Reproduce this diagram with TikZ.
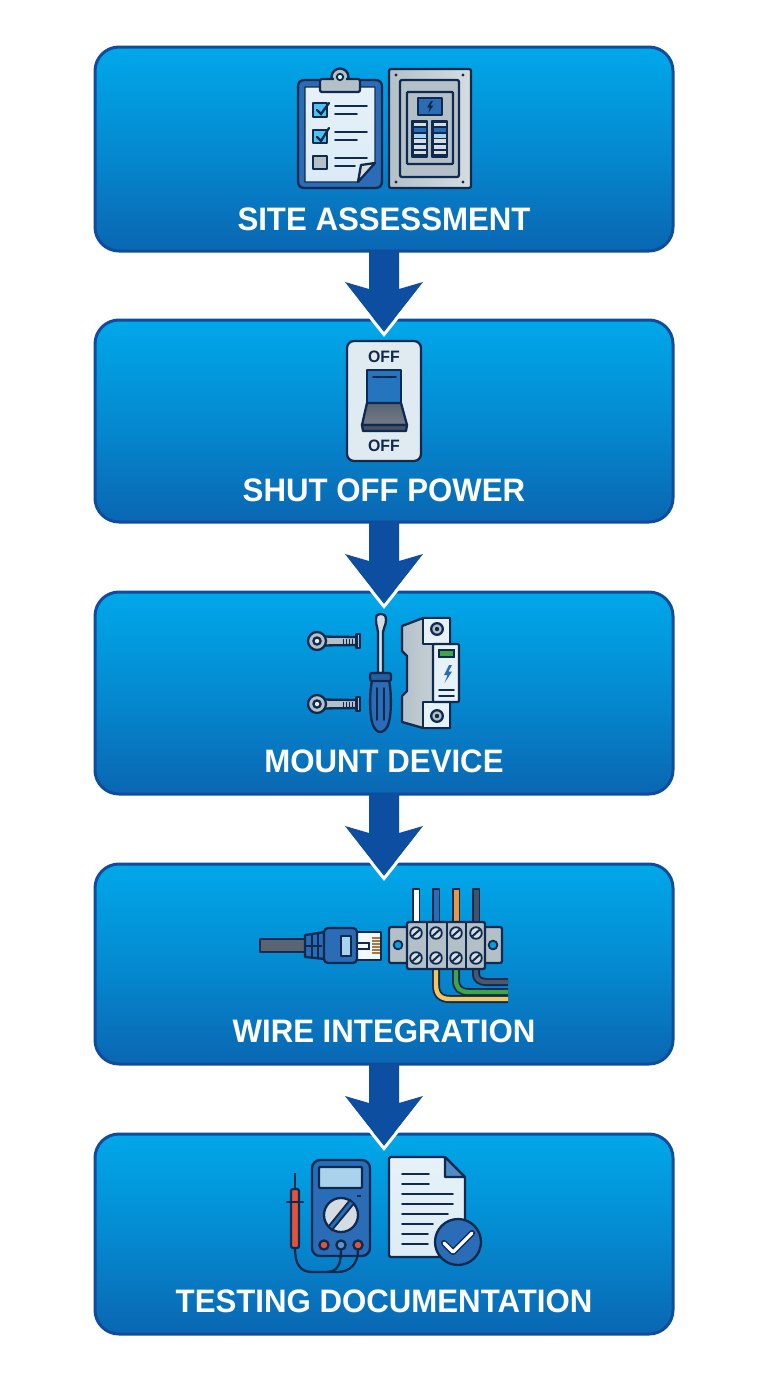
\documentclass[tikz,border=0pt]{standalone}
\usepackage{fontspec}
\setmainfont[FakeStretch=0.96]{Liberation Sans}
\usetikzlibrary{calc}
\definecolor{ink}{HTML}{10294F}
\definecolor{boxtop}{HTML}{00A8EA}
\definecolor{boxbot}{HTML}{0A66B2}
\definecolor{boxline}{HTML}{0F4C9A}
\definecolor{arrowblue}{HTML}{0D4EA0}
\definecolor{mblue}{HTML}{2A6CB5}
\definecolor{lblue}{HTML}{A9D3EC}
\definecolor{paper}{HTML}{E6F1F8}
\definecolor{metal}{HTML}{B4C0C8}
\definecolor{metald}{HTML}{8F9BA5}
\definecolor{metall}{HTML}{D5DDE2}
\definecolor{slate}{HTML}{5A6472}
\definecolor{redp}{HTML}{E0533F}
\definecolor{wireorange}{HTML}{E8983F}
\definecolor{wireyellow}{HTML}{F2C85A}
\definecolor{wiregreen}{HTML}{3FA548}
\tikzset{
  stepbox/.style={draw=boxline,line width=3pt,rounded corners=24pt,minimum width=578pt,inner sep=0pt,outer sep=0pt,
    top color=boxtop,bottom color=boxbot,middle color=boxtop!55!boxbot},
  steplabel/.style={text=white,font=\fontsize{32.5}{32.5}\selectfont\bfseries,inner sep=0pt},
  ic/.style={draw=ink,line width=2.3pt,line join=round,line cap=round},
  thin ic/.style={draw=ink,line width=1.8pt,line cap=round},
  slot/.style={draw=ink,line width=1.5pt,line cap=round},
}
\newcommand\flowarrow[2]{%
  \fill[arrowblue] ($(#1.south)+(-15,0)$) -- ($(#2.north)+(-15,-31)$) -- ($(#2.north)+(-39,-38)$)
    -- ($(#2.north)+(0,12)$) -- ($(#2.north)+(39,-38)$) -- ($(#2.north)+(15,-31)$) -- ($(#1.south)+(15,0)$) -- cycle;
  \draw[white,line width=3pt,line join=miter] ($(#2.north)+(-39,-38)+(-1.5,1.8)$) -- ($(#2.north)+(0,14.5)$) -- ($(#2.north)+(39,-38)+(1.5,1.8)$);
}
\newcommand\slotscrew[2]{%
  \draw[ic,fill=metall,line width=1.8pt] (#1,#2) circle (5.8pt);
  \draw[ink,line width=2pt] (#1-3.6,#2+3.2) -- (#1+3.6,#2-3.2);
}
\newcommand\eyebolt[1]{%
  \draw[ic,fill=metal] (321,#1-4.5) -- (357,#1-4) -- (357,#1+4) -- (321,#1+4.5) -- cycle;
  \draw[ic,fill=metal] (317,#1) circle (9pt);
  \draw[ic,fill=paper] (317,#1) circle (3.6pt);
  \draw[ic,fill=metal] (356.5,#1-7) rectangle (360,#1+7);
  \foreach \tx in {343,346,349,352}{\draw[ink,line width=.9pt] (\tx,#1-2.5) -- (\tx,#1+2.5);}
}
\begin{document}
\begin{tikzpicture}[x=1pt,y=-1pt]
\useasboundingbox (0,0) rectangle (768,1376);
\fill[white] (0,0) rectangle (768,1376);
% boxes
\node[stepbox,minimum height=204pt] (b1) at (384,149) {};
\node[stepbox,minimum height=202pt] (b2) at (384,421) {};
\node[stepbox,minimum height=202pt] (b3) at (384,693) {};
\node[stepbox,minimum height=200pt] (b4) at (384,964) {};
\node[stepbox,minimum height=200pt] (b5) at (384,1234) {};
\node[steplabel] (t1) at (384,219) {SITE ASSESSMENT};
\node[steplabel] (t2) at (384,490) {SHUT OFF POWER};
\node[steplabel] (t3) at (384,761) {MOUNT DEVICE};
\node[steplabel] (t4) at (384,1031) {WIRE INTEGRATION};
\node[steplabel] (t5) at (384,1301) {TESTING DOCUMENTATION};
\flowarrow{b1}{b2}
\flowarrow{b2}{b3}
\flowarrow{b3}{b4}
\flowarrow{b4}{b5}
% ---------- clipboard
\draw[ic,fill=mblue,rounded corners=6pt] (298,80) rectangle (382,188);
\draw[ic,draw=ink,line width=1.2pt,top color=paper,bottom color=paper!80!lblue] (305,87) -- (375,87) -- (375,163) -- (358,182) -- (305,182) -- cycle;
\draw[ic,fill=metall] (375,163) -- (361,165) -- (358,182) -- cycle;
\draw[ic,fill=metal] (340,77) circle (8.5pt);
\draw[ic,fill=metal,rounded corners=2pt] (320,92) -- (320,79) -- (360,79) -- (360,92) -- cycle;
\fill[metal] (334,81) rectangle (346,76);
\draw[ic,fill=paper,line width=1.8pt] (340,77) circle (3.2pt);
\draw[ic,fill=boxtop!70!white] (313,103) rectangle (327,117);
\draw[ic,fill=boxtop!70!white] (313,130) rectangle (327,143);
\draw[ic,fill=metal] (313,156) rectangle (327,169);
\draw[ink,line width=2.3pt,line cap=round] (317,110) -- (321,114) -- (329,103);
\draw[ink,line width=2.3pt,line cap=round] (317,137) -- (321,141) -- (329,128);
\foreach \ya/\yb/\xe in {106/114/357,132/140/357,158/166/355}{
  \draw[thin ic] (335,\ya) -- (367,\ya);
  \draw[thin ic] (335,\yb) -- (\xe,\yb);
}
% ---------- panel
\draw[ic,left color=metal,right color=metall,rounded corners=2pt] (389,69) rectangle (471,188);
\foreach \px/\py in {396/75,463/75,396/182,463/182}{\fill[ink] (\px,\py) circle (1.6pt);}
\draw[ic,fill=metal,rounded corners=2pt] (400,80) rectangle (459,177);
\draw[ic,fill=metal,rounded corners=1pt] (407,92) rectangle (453,164);
\draw[ic,fill=mblue] (418,98) rectangle (442,115);
\fill[ink] (431,101) -- (427,107.5) -- (430,107.5) -- (428,113) -- (433.5,105.5) -- (430.5,105.5) -- (433,101) -- cycle;
\foreach \cx in {412,432}{
  \draw[ic,fill=ink] (\cx,121) rectangle (\cx+15,157);
  \foreach \r/\rc in {0/metall,1/mblue,2/lblue,3/metall,4/metall,5/metall}{
    \fill[\rc] (\cx+1.5,122.5+\r*5.6) rectangle (\cx+13.5,126.3+\r*5.6);
  }
}
% ---------- switch
\draw[ic,fill=paper!85!metal,rounded corners=7pt] (347,341) rectangle (421,461);
\node[font=\fontsize{16.5}{16.5}\selectfont\bfseries,text=ink,inner sep=0pt] (off1) at (384,357) {OFF};
\node[font=\fontsize{16.5}{16.5}\selectfont\bfseries,text=ink,inner sep=0pt] (off2) at (384,446) {OFF};
\draw[ic,fill=mblue!85!boxtop] (367,370) -- (401,370) -- (401,403) -- (367,403) -- cycle;
\draw[ic,top color=slate,bottom color=slate!85!white] (367,403) -- (401,403) -- (407,425) -- (362,425) -- cycle;
\draw[ic,fill=slate!70!ink] (362,425) -- (407,425) -- (406,431) -- (363,431) -- cycle;
\draw[thin ic] (373,377) -- (396,377);
% ---------- bolts
\eyebolt{641}
\eyebolt{704}
% ---------- screwdriver
\draw[ic,fill=metall] (378,673) -- (378,632) .. controls (378,628) and (376,626) .. (376,620) .. controls (376,615) and (377,614) .. (380,614) .. controls (384,614) and (386,615) .. (386,620) .. controls (386,626) and (383,628) .. (383,632) -- (383,673) -- cycle;
\draw[ic,fill=mblue] (372,680) .. controls (369,695) and (370,715) .. (372,722) .. controls (374,730) and (378,732) .. (380,732) .. controls (383,732) and (387,730) .. (389,722) .. controls (391,715) and (392,695) .. (389,680) -- cycle;
\draw[ic,fill=mblue!80!ink,rounded corners=2pt] (370,673) rectangle (391,681);
\draw[thin ic] (377,688) -- (377,720);
\draw[thin ic] (384,688) -- (384,720);
% ---------- surge device
\draw[ic,left color=metal,right color=metall!80!metal] (402,626) -- (423,618) -- (450,618) -- (450,728) -- (423,728) -- (402,722) -- (402,696) -- (407,691) -- (407,656) -- (402,651) -- cycle;
\draw[ic,fill=paper] (423,618) rectangle (450,644);
\draw[ic,fill=paper] (423,702) rectangle (450,728);
\draw[ic,fill=paper,rounded corners=1pt] (433,644) rectangle (459,702);
\draw[ic,fill=metal] (437,629) circle (5.8pt);
\draw[ic,fill=metal] (437,716) circle (5.8pt);
\fill[ink] (437,629) circle (2.2pt);
\fill[ink] (437,716) circle (2.2pt);
\draw[draw=ink,line width=1.6pt,fill=wiregreen] (439,650) rectangle (454,657);
\fill[mblue] (449,665) -- (444,675) -- (447.5,675) -- (444.5,683) -- (452,671.5) -- (448.5,671.5) -- (452,665) -- cycle;
\draw[thin ic] (439,690) -- (454,690);
\draw[thin ic] (439,696) -- (454,696);
% ---------- rj45 plug
\draw[ic,fill=slate,line cap=butt] (305,939) -- (260,939) -- (260,952) -- (305,952);
\draw[ic,fill=mblue] (305,935) -- (325,932) -- (325,959) -- (305,957) -- cycle;
\draw[ink,line width=2.2pt] (312,934.5) -- (312,957.5) (318,934) -- (318,958) (305,946) -- (322,946);
\draw[ic,fill=white!85!lblue] (357,932) rectangle (381,960);
\draw[ic,fill=mblue,rounded corners=4pt] (324,928) rectangle (357,963);
\draw[ic,fill=lblue] (341,936) rectangle (351,956);
\draw[thin ic,fill=white!85!lblue,line width=1.4pt] (357,943) rectangle (369,949);
\foreach \cy in {938,941,944,947,950,953}{\draw[wireorange!70!ink,line width=1.1pt] (372,\cy) -- (380,\cy);}
% ---------- wires top
\foreach \wx/\wc in {416/white,436/mblue,456/wireorange,476/slate!70!ink}{
  \draw[ink,line width=8.4pt] (\wx,888) -- (\wx,923);
  \draw[\wc,line width=5pt] (\wx,889.5) -- (\wx,923);
}
% ---------- wires bottom
\draw[ink,line width=8pt] (436,968) -- (436,985) .. controls (436,995) and (441,999) .. (450,999) -- (508,999);
\draw[wireyellow,line width=4.4pt] (436,968) -- (436,985) .. controls (436,995) and (441,999) .. (450,999) -- (508,999);
\draw[ink,line width=8pt] (456,968) -- (456,980) .. controls (456,988) and (460,992) .. (469,992) -- (508,992);
\draw[wiregreen,line width=4.4pt] (456,968) -- (456,980) .. controls (456,988) and (460,992) .. (469,992) -- (508,992);
\draw[ink,line width=8pt] (476,968) -- (476,974) .. controls (476,979) and (480,982) .. (486,982) -- (508,982);
\draw[slate!80!ink,line width=4.4pt] (476,968) -- (476,974) .. controls (476,979) and (480,982) .. (486,982) -- (508,982);
% ---------- terminal
\draw[ic,fill=metal,rounded corners=2pt] (389,927) rectangle (408,963);
\draw[ic,fill=metal,rounded corners=2pt] (484,927) rectangle (502,963);
\draw[ic,fill=boxtop!80!mblue,line width=1.8pt] (398,945) circle (4.4pt);
\draw[ic,fill=boxtop!80!mblue,line width=1.8pt] (493,945) circle (4.4pt);
\draw[ic,fill=metal,rounded corners=2pt] (407,922) rectangle (485,969);
\draw[ink,line width=2pt] (427,922) -- (427,969) (447,922) -- (447,969) (466,922) -- (466,969);
\foreach \sx in {416,436,456,476}{
  \slotscrew{\sx}{933}
  \slotscrew{\sx}{958}
}
% ---------- multimeter
\draw[ic,fill=mblue,rounded corners=8pt] (312,1160) rectangle (370,1256);
\draw[ic,fill=lblue,rounded corners=1pt] (319,1167) rectangle (362,1188);
\draw[ink,line width=1.8pt] (357,1196) -- (361,1196);
\draw[ic,fill=metall] (341,1215) circle (17pt);
\draw[draw=ink,line width=1.8pt,fill=mblue] (332,1230) -- (328.5,1226.5) -- (350,1200) -- (354,1203.5) -- cycle;
\draw[ic,fill=redp] (324,1245) circle (4.6pt);
\draw[ic,fill=mblue!60!lblue] (341,1245) circle (4.6pt);
\draw[ic,fill=redp] (358,1245) circle (4.6pt);
\draw[ic] (295,1248) .. controls (295,1264) and (300,1272) .. (312,1272) -- (326,1272) .. controls (338,1272) and (341,1264) .. (341,1250);
\draw[ic] (358,1250) .. controls (358,1264) and (350,1272) .. (337,1272) -- (328,1272);
\draw[ink,line width=2.3pt] (295,1173) -- (295,1189);
\draw[ic,fill=redp,rounded corners=2pt] (291,1189) rectangle (299,1248);
\draw[ink,line width=2.3pt,line cap=round] (287,1202) -- (303,1202);
% ---------- document
\draw[ic,top color=paper,bottom color=paper!85!lblue,rounded corners=1.5pt] (389,1157) -- (445,1157) -- (465,1177) -- (465,1257) -- (389,1257) -- cycle;
\draw[ic,fill=mblue!70!lblue] (445,1157) -- (445,1177) -- (465,1177) -- cycle;
\foreach \ly/\lx in {1174/429,1184/429,1194/453,1204/453,1214/448,1224/433,1234/428,1244/428}{
  \draw[ink,line width=1.8pt,line cap=round] (402,\ly) -- (\lx,\ly);
}
\draw[ic,fill=mblue] (458,1242) circle (23pt);
\draw[ink,line width=6pt,line cap=round,line join=round] (444,1243) -- (453,1252) -- (472,1233);
\draw[white,line width=3.2pt,line cap=round,line join=round] (444,1243) -- (453,1252) -- (472,1233);
\end{tikzpicture}
\end{document}
